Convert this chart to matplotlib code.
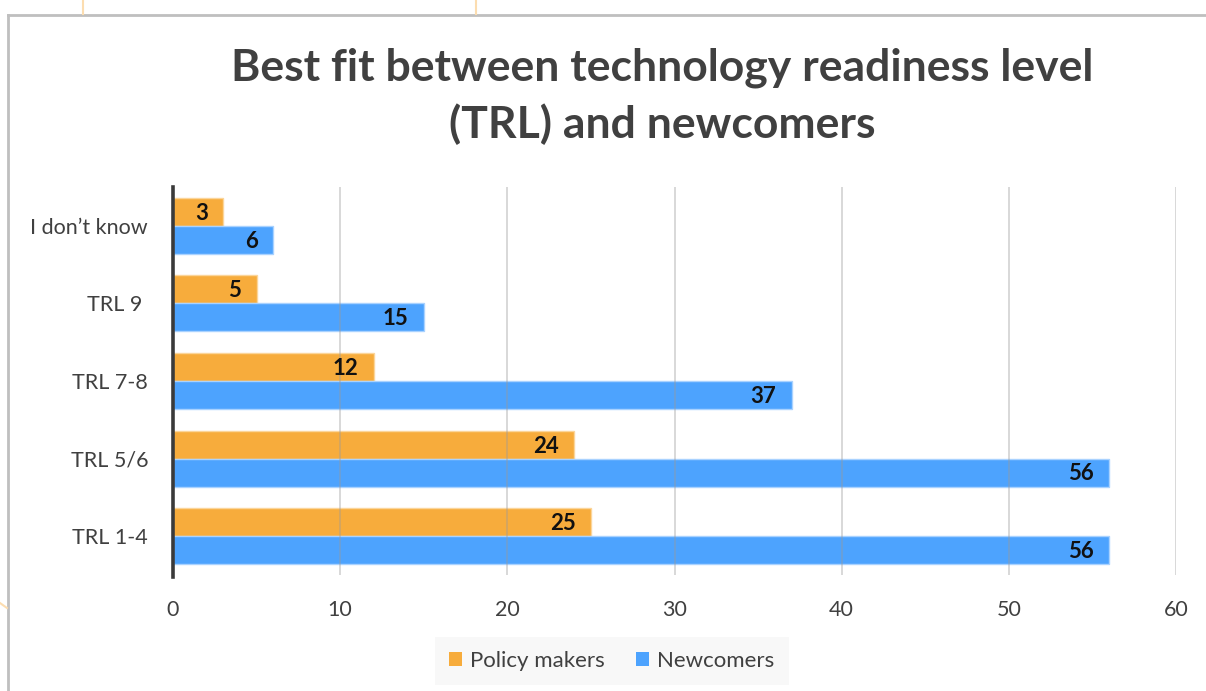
import matplotlib.pyplot as plt
from matplotlib.lines import Line2D
from matplotlib.patches import Patch
import numpy as np

plt.rcParams['font.family'] = ['Lato', 'DejaVu Sans']

# categories listed bottom to top
categories = ['TRL 1-4', 'TRL 5/6', 'TRL 7-8', 'TRL 9 ', 'I don\u2019t know']
policy_makers = [25, 24, 12, 5, 3]
newcomers = [56, 56, 37, 15, 6]
x_ticks = [0, 10, 20, 30, 40, 50, 60]

orange = '#F7AC3C'
blue = '#4DA3FE'
text_col = '#404040'

W, H = 1206, 691
fig = plt.figure(figsize=(W / 100, H / 100), dpi=100)
ax = fig.add_axes([173 / W, 1 - 575 / H, 1003 / W, 388 / H])

y = np.arange(len(categories))
h = 0.36
b1 = ax.barh(y + h / 2, policy_makers, height=h, color=orange,
             edgecolor='#FBD59A', linewidth=1, zorder=2)
b2 = ax.barh(y - h / 2, newcomers, height=h, color=blue,
             edgecolor='#A9D2FF', linewidth=1, zorder=2)

# value labels at the inside end of each bar
for bars, vals in ((b1, policy_makers), (b2, newcomers)):
    for bar, v in zip(bars, vals):
        ax.annotate(str(v), (v, bar.get_y() + bar.get_height() / 2),
                    xytext=(-11, -1), textcoords='offset points',
                    ha='right', va='center', fontsize=16,
                    fontweight='bold', color='#111111', zorder=4)

ax.set_xlim(0, 60)
ax.set_ylim(-0.5, len(categories) - 0.5)
ax.set_xticks(x_ticks)
ax.set_yticks(y)
ax.set_yticklabels(categories)
ax.tick_params(axis='both', length=0, labelsize=15.5, labelcolor=text_col)
ax.tick_params(axis='x', pad=18)
ax.tick_params(axis='y', pad=18)

for x in x_ticks[1:]:
    ax.axvline(x, color='#9a9a9a', linewidth=1.2, alpha=0.45, zorder=3)

for s in ('top', 'right', 'bottom'):
    ax.spines[s].set_visible(False)
ax.spines['left'].set_color('#3a3a3a')
ax.spines['left'].set_linewidth(2.6)
ax.spines['left'].set_bounds(-0.52, len(categories) - 0.5)

fig.text(662 / W, 1 - 96 / H,
         'Best fit between technology readiness level\n(TRL) and newcomers',
         ha='center', va='center', fontsize=32, fontweight='bold',
         color=text_col, linespacing=1.45)

handles = [Patch(facecolor=orange, edgecolor='none', label='Policy makers'),
           Patch(facecolor=blue, edgecolor='none', label='Newcomers')]
leg = fig.legend(handles=handles, loc='center', ncol=2,
                 bbox_to_anchor=(612 / W, 1 - 661 / H),
                 bbox_transform=fig.transFigure, frameon=True,
                 fancybox=False, fontsize=16, handlelength=0.55,
                 handleheight=0.55, handletextpad=0.4, columnspacing=1.4,
                 borderpad=0.65, borderaxespad=0)
leg.get_frame().set_facecolor('#F7F7F7')
leg.get_frame().set_edgecolor('none')
for t in leg.get_texts():
    t.set_color(text_col)

# chart frame and page edge
fig.add_artist(Line2D([8 / W, 1], [1 - 15 / H, 1 - 15 / H],
                      color='#BFBFBF', linewidth=2))
fig.add_artist(Line2D([8 / W, 8 / W], [0, 1 - 15 / H],
                      color='#BFBFBF', linewidth=2))
for xp in (83, 476):
    fig.add_artist(Line2D([xp / W, xp / W], [1 - 14 / H, 1],
                          color='#FCDDB0', linewidth=1.5))
fig.add_artist(Line2D([0, 7 / W], [1 - 603 / H, 1 - 608 / H],
                      color='#FCDDB0', linewidth=1.5))

fig.savefig('out.png', dpi=100)
